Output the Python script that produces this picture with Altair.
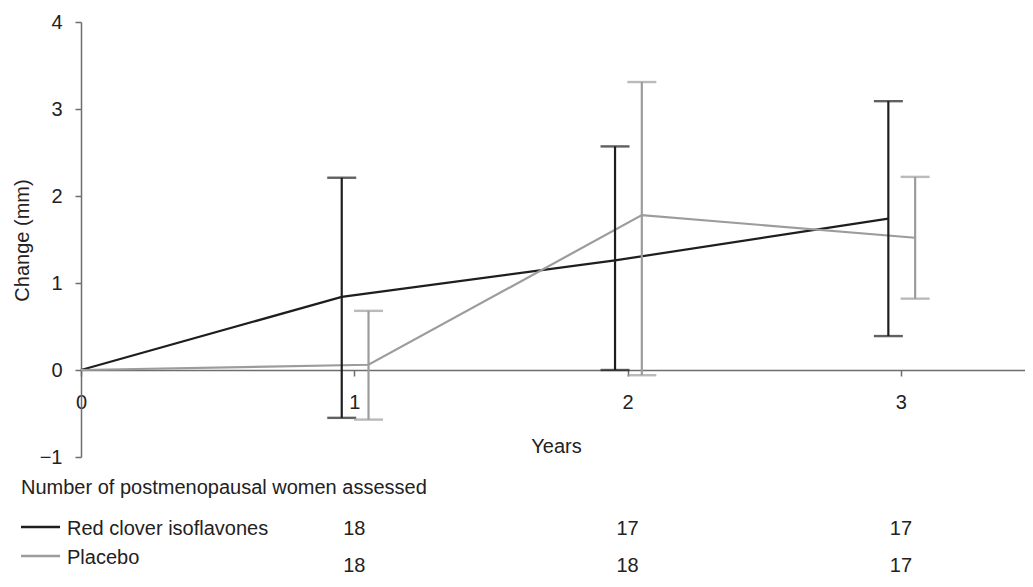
import altair as alt
import pandas as pd

# ---- data ----
years = [0, 1, 2, 3]
red_mean = [0.0, 0.84, 1.26, 1.74]
red_low = [0.0, -0.55, 0.00, 0.39]
red_high = [0.0, 2.21, 2.57, 3.09]
placebo_mean = [0.0, 0.06, 1.78, 1.52]
placebo_low = [0.0, -0.57, -0.06, 0.82]
placebo_high = [0.0, 0.68, 3.31, 2.22]

n_years = [1, 2, 3]
n_red = [18, 17, 17]
n_placebo = [18, 18, 17]

series_names = ["Red clover isoflavones", "Placebo"]
series_colors = ["#1e1e1e", "#9c9c9c"]
dodge = {"Red clover isoflavones": -0.046, "Placebo": 0.052}

FONT = "Liberation Sans"
AXIS_COLOR = "#6e6e6e"
TEXT_COLOR = "#222222"

rows = []
for name, m, lo, hi in [
    (series_names[0], red_mean, red_low, red_high),
    (series_names[1], placebo_mean, placebo_low, placebo_high),
]:
    for y, mv, lv, hv in zip(years, m, lo, hi):
        rows.append({"series": name, "year": y, "mean": mv, "low": lv, "high": hv})
df = pd.DataFrame(rows)
df["xpos"] = df.apply(lambda r: r["year"] + (dodge[r["series"]] if r["year"] > 0 else 0), axis=1)
df_err = df[df["year"] > 0]

counts = pd.DataFrame({"xpos": n_years, "n_red": n_red, "n_placebo": n_placebo})

XMAX = 3.454
x_scale = alt.Scale(domain=[0, XMAX], nice=False, zero=False)
y_scale = alt.Scale(domain=[-1, 4], nice=False, zero=False)
color_scale = alt.Scale(domain=series_names, range=series_colors)

x_axis = alt.Axis(
    values=[0, 1, 2, 3], format="d", offset=-87, tickSize=6, labelPadding=16,
    labelFontSize=20, labelFont=FONT, labelColor=TEXT_COLOR, labelFlush=False,
    domainColor=AXIS_COLOR, tickColor=AXIS_COLOR, domainWidth=1.5, tickWidth=1.5,
    grid=False, title="Years", titleFont=FONT, titleFontSize=20,
    titleFontWeight="normal", titleColor=TEXT_COLOR, titleX=475, titleY=82,
    titleBaseline="alphabetic", titleAlign="center",
)
y_axis = alt.Axis(
    values=[-1, 0, 1, 2, 3, 4], tickSize=6, labelPadding=13,
    labelFontSize=20, labelFont=FONT, labelColor=TEXT_COLOR, labelFlush=False,
    domainColor=AXIS_COLOR, tickColor=AXIS_COLOR, domainWidth=1.5, tickWidth=1.5,
    grid=False, title="Change (mm)", titleFont=FONT, titleFontSize=20,
    titleFontWeight="normal", titleColor=TEXT_COLOR, titleX=-53, titleY=218,
    titleAngle=270, titleAlign="center", titleBaseline="alphabetic",
)

X = alt.X("xpos:Q", scale=x_scale, axis=x_axis, title="Years")
COLOR = alt.Color("series:N", scale=color_scale, legend=None)

lines = alt.Chart(df).mark_line(strokeWidth=2.2).encode(
    x=X,
    y=alt.Y("mean:Q", scale=y_scale, axis=y_axis, title="Change (mm)"),
    color=COLOR,
    detail="series:N",
    order="year:Q",
)

err = alt.Chart(df_err)
bars = err.mark_rule(strokeWidth=2.2).encode(
    x=X,
    y=alt.Y("low:Q", scale=y_scale, axis=y_axis, title="Change (mm)"),
    y2="high:Q",
    color=COLOR,
)
cap_lo = err.mark_tick(orient="horizontal", size=29, thickness=2.4).encode(
    x=X,
    y=alt.Y("low:Q", scale=y_scale, axis=y_axis, title="Change (mm)"),
    color=COLOR,
)
cap_hi = err.mark_tick(orient="horizontal", size=29, thickness=2.4).encode(
    x=X,
    y=alt.Y("high:Q", scale=y_scale, axis=y_axis, title="Change (mm)"),
    color=COLOR,
)

# ---- table under the chart ----
txt_style = dict(font=FONT, fontSize=20, color=TEXT_COLOR, baseline="alphabetic")

header = alt.Chart(pd.DataFrame({"t": ["Number of postmenopausal women assessed"]})).mark_text(
    align="left", **txt_style
).encode(text="t:N", x=alt.value(-60), y=alt.value(472))

leg_df = pd.DataFrame({"t": series_names})
leg_red_line = alt.Chart(leg_df.iloc[[0]]).mark_rule(strokeWidth=2.4, color=series_colors[0]).encode(
    x=alt.value(-60), x2=alt.value(-21), y=alt.value(505)
)
leg_red_text = alt.Chart(leg_df.iloc[[0]]).mark_text(align="left", **txt_style).encode(
    text="t:N", x=alt.value(-14), y=alt.value(513)
)
leg_pla_line = alt.Chart(leg_df.iloc[[1]]).mark_rule(strokeWidth=2.4, color=series_colors[1]).encode(
    x=alt.value(-60), x2=alt.value(-21), y=alt.value(534)
)
leg_pla_text = alt.Chart(leg_df.iloc[[1]]).mark_text(align="left", **txt_style).encode(
    text="t:N", x=alt.value(-14), y=alt.value(542)
)

n_red_text = alt.Chart(counts).mark_text(align="center", **txt_style).encode(
    x=X, y=alt.value(513), text="n_red:Q"
)
n_pla_text = alt.Chart(counts).mark_text(align="center", **txt_style).encode(
    x=X, y=alt.value(550), text="n_placebo:Q"
)

chart = alt.layer(
    lines, bars, cap_lo, cap_hi,
    header, leg_red_line, leg_red_text, leg_pla_line, leg_pla_text,
    n_red_text, n_pla_text,
).properties(
    width=944, height=435,
    background="white",
    autosize=alt.AutoSizeParams(type="none"),
    padding={"left": 73, "top": 14, "right": 0, "bottom": 122},
).configure_view(stroke=None)

chart.save("out.html", embed_options={"renderer": "svg", "actions": False})
